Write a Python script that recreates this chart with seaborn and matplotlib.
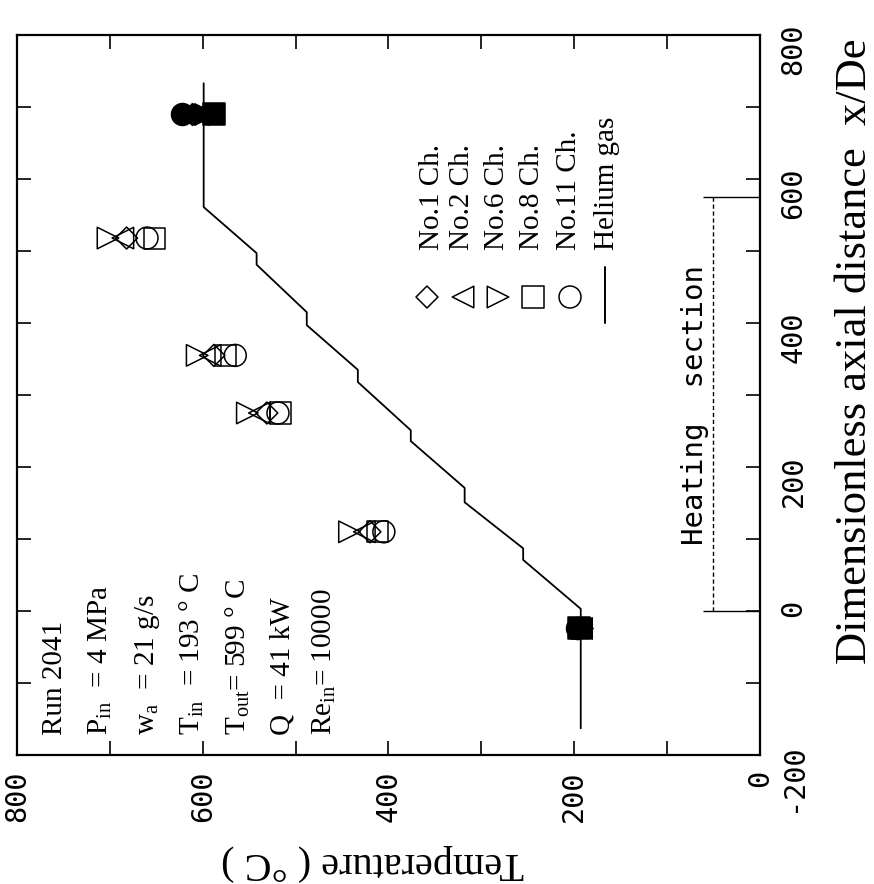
import matplotlib
matplotlib.use("Agg")
import matplotlib.pyplot as plt
from matplotlib.ticker import MultipleLocator
import pandas as pd
import seaborn as sns

# thermocouple stations along the channels (X/De)
stations = [-24, 110, 275, 355, 518, 690]

# measured temperatures (deg C) per channel at each station
t_no1 = [196, 420, 531, 588, 682, 612]
t_no2 = [193, 426, 539, 592, 686, 605]
t_no6 = [192, 442, 552, 606, 702, 598]
t_no8 = [195, 412, 516, 575, 652, 588]
t_no11 = [197, 405, 519, 565, 660, 622]

channels = ["No.1 Ch.", "No.2 Ch.", "No.6 Ch.", "No.8 Ch.", "No.11 Ch."]

# helium gas bulk temperature, stepping through the heated segments
gas_xde = [-163, 3, 71, 87, 151, 171, 236, 251, 318, 335, 397, 415, 481, 497, 561, 733]
gas_t = [193, 193, 255, 255, 318, 318, 376, 376, 433, 433, 488, 488, 542, 542, 599, 599]

heat_start, heat_end = 0, 575

run_info = [
    "Run 2041",
    r"P$_{\rm in}$  = 4 MPa",
    r"w$_{\rm a}$  = 21 g/s",
    r"T$_{\rm in}$  = 193 ° C",
    r"T$_{\rm out}$= 599 ° C",
    "Q  = 41 kW",
    r"Re$_{\rm in}$= 10000",
]

# marker shape / area as they appear in the (rotated) figure
STYLE = {
    "No.1 Ch.": ("D", 125),
    "No.2 Ch.": ("<", 240),
    "No.6 Ch.": (">", 240),
    "No.8 Ch.": ("s", 230),
    "No.11 Ch.": ("o", 250),
}

rows = []
for ch, temps in zip(channels, [t_no1, t_no2, t_no6, t_no8, t_no11]):
    for i, (x, t) in enumerate(zip(stations, temps)):
        # inlet / outlet readings are drawn solid
        rows.append({"channel": ch, "xde": x, "T": t,
                     "solid": i in (0, len(stations) - 1)})
df = pd.DataFrame(rows)

sns.set_theme(style="ticks")
plt.rcParams.update({
    "font.family": ["Liberation Serif", "DejaVu Serif"],
    "mathtext.fontset": "custom",
    "mathtext.rm": "Liberation Serif",
    "mathtext.it": "Liberation Serif:italic",
    "axes.unicode_minus": False,
    "axes.edgecolor": "black",
    "axes.linewidth": 1.6,
    "text.color": "black",
})

fig = plt.figure(figsize=(8.74, 8.84), dpi=100)
ax = fig.add_axes([0.01945, 0.14593, 0.8501, 0.81448])

sns.lineplot(x=gas_t, y=gas_xde, sort=False, estimator=None,
             color="black", linewidth=1.3, ax=ax)

for ch in channels:
    m, s = STYLE[ch]
    sub = df[df["channel"] == ch]
    sns.scatterplot(data=sub[~sub["solid"]], x="T", y="xde", marker=m, s=s,
                    facecolor="none", edgecolor="black", linewidth=1.1,
                    legend=False, ax=ax, zorder=3)
    sns.scatterplot(data=sub[sub["solid"]], x="T", y="xde", marker=m, s=s,
                    color="black", edgecolor="black", linewidth=1.1,
                    legend=False, ax=ax, zorder=3)

# heating section bracket
ax.hlines([heat_start, heat_end], 61, 0, color="black", linewidth=1.0)
ax.vlines(51, heat_start, heat_end, color="black", linewidth=1.0,
          linestyles=(0, (3, 2)))
ax.text(0.9233, 0.486, "Heating  section", transform=ax.transAxes,
        rotation=90, rotation_mode="anchor", ha="center", va="baseline",
        family="DejaVu Sans Mono", fontsize=21)

ax.set_xlim(800, 0)
ax.set_ylim(-200, 800)
ax.set_xlabel("")
ax.set_ylabel("")
for axis in (ax.xaxis, ax.yaxis):
    axis.set_major_locator(MultipleLocator(200))
    axis.set_minor_locator(MultipleLocator(100))
ax.tick_params(which="both", direction="in", length=10, width=1.2,
               top=True, bottom=True, left=True, right=True, colors="black")
ax.tick_params(axis="y", labelleft=False, labelright=True,
               labelrotation=90, pad=14)
ax.tick_params(axis="x", labelrotation=90, pad=11)
for lab in ax.get_xticklabels() + ax.get_yticklabels():
    lab.set_family("DejaVu Sans Mono")
    lab.set_fontsize(20.5)

# axis titles, laid out as on the turned page
ax.text(1.128, 0.561, "Dimensionless axial distance  x/De",
        transform=ax.transAxes, rotation=90, ha="center", va="center",
        fontsize=32)
ax.text(0.478, -0.149, "Temperature ( °C )", transform=ax.transAxes,
        rotation=180, ha="center", va="center", fontsize=29)

# run conditions
info_x = [0.0606, 0.1225, 0.1844, 0.2463, 0.3082, 0.3674, 0.4240]
for x, s in zip(info_x, run_info):
    ax.text(x, 0.0278, s, transform=ax.transAxes, rotation=90,
            rotation_mode="anchor", ha="left", va="baseline", fontsize=21)

# hand-made legend
leg_mx = [0.5518, 0.6003, 0.6474, 0.6945, 0.7443]
leg_tx = [0.5585, 0.5989, 0.6460, 0.6931, 0.7430, 0.7941]
for x, ch in zip(leg_mx, channels):
    m, s = STYLE[ch]
    ax.scatter([x], [0.6361], marker=m, s=s, facecolor="none",
               edgecolor="black", linewidth=1.1, transform=ax.transAxes,
               clip_on=False)
ax.plot([0.7914, 0.7914], [0.6000, 0.6778], color="black", linewidth=1.4,
        transform=ax.transAxes)
for x, s in zip(leg_tx, channels + ["Helium gas"]):
    ax.text(x, 0.7014, s, transform=ax.transAxes, rotation=90,
            rotation_mode="anchor", ha="left", va="center", fontsize=21)

fig.savefig("out.png", dpi=100, facecolor="white")
